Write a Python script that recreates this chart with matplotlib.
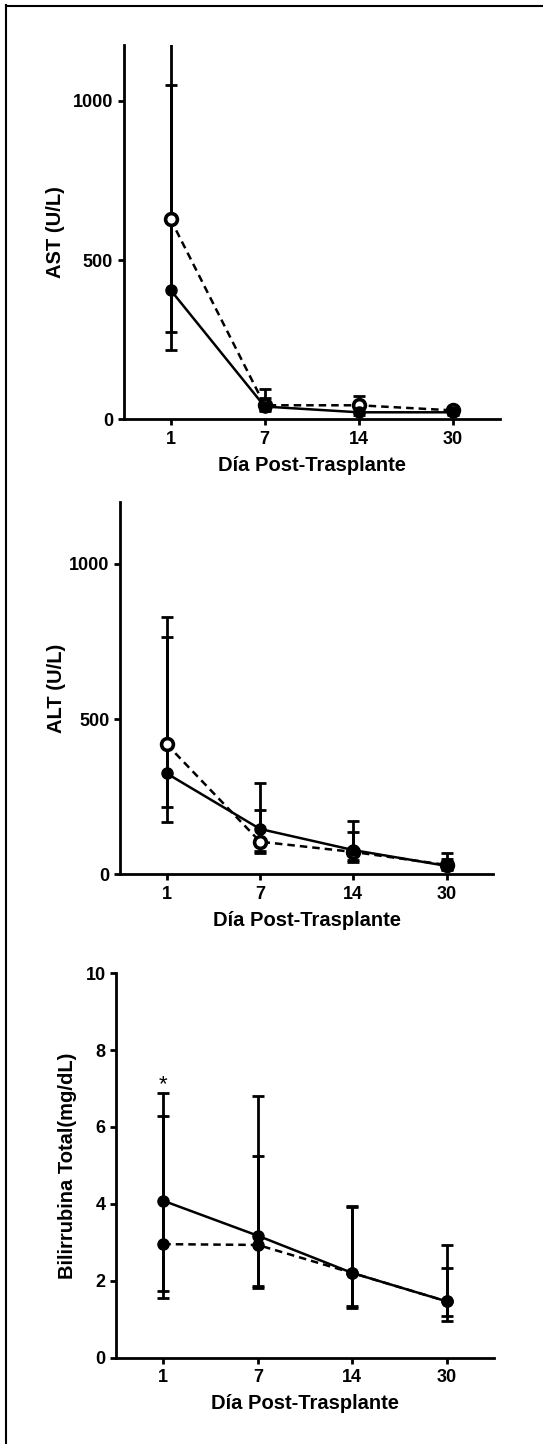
import matplotlib
matplotlib.use('Agg')
import matplotlib.pyplot as plt
import numpy as np
from matplotlib.lines import Line2D

days = ['1', '7', '14', '30']

# AST (U/L)
ast_solid = [406, 40, 22, 22]
ast_solid_low = [275, 25, 12, 14]
ast_solid_high = [1400, 66, 35, 30]
ast_dashed = [628, 44, 44, 28]
ast_dashed_low = [216, 30, 22, 18]
ast_dashed_high = [1050, 94, 72, 38]

# ALT (U/L)
alt_solid = [325, 146, 78, 27]
alt_solid_low = [217, 69, 41, 14]
alt_solid_high = [764, 207, 135, 48]
alt_dashed = [419, 105, 72, 30]
alt_dashed_low = [167, 75, 45, 18]
alt_dashed_high = [830, 293, 171, 67]

# Bilirrubina total (mg/dL)
bil_solid = [4.08, 3.17, 2.20, 1.46]
bil_solid_low = [1.54, 1.80, 1.30, 0.95]
bil_solid_high = [6.29, 6.81, 3.95, 2.34]
bil_dashed = [2.95, 2.93, 2.20, 1.46]
bil_dashed_low = [1.73, 1.85, 1.35, 1.07]
bil_dashed_high = [6.88, 5.25, 3.93, 2.93]

plt.rcParams['font.family'] = ['Liberation Sans', 'DejaVu Sans']
plt.rcParams['font.weight'] = 'bold'

W, H = 543, 1444
fig = plt.figure(figsize=(W / 100, H / 100), dpi=100)


def px_axes(left, right, top, bottom):
    return fig.add_axes([left / W, 1 - bottom / H, (right - left) / W, (bottom - top) / H])


def series(ax, means, lows, highs, dashed, filled):
    x = np.arange(len(days))
    m = np.array(means, dtype=float)
    err = [m - np.array(lows, dtype=float), np.array(highs, dtype=float) - m]
    ax.errorbar(x, m, yerr=err, fmt='none', ecolor='black', elinewidth=2.0,
                capsize=4.5, capthick=2.0, zorder=2)
    ls = (0, (3, 2)) if dashed else '-'
    if filled:
        ax.plot(x, m, color='black', lw=1.8, linestyle=ls, marker='o', ms=8,
                mfc='black', mec='black', zorder=3)
    else:
        ax.plot(x, m, color='black', lw=1.8, linestyle=ls, marker='o', ms=8.5,
                mfc='white', mec='black', mew=2.6, zorder=3)


def style(ax, ylim, yticks, ylabel, ylab_x, axh):
    ax.set_xlim(-0.5, 3.5)
    ax.set_ylim(*ylim)
    ax.set_xticks(np.arange(len(days)))
    ax.set_xticklabels(days)
    ax.set_yticks(yticks)
    for s in ['top', 'right']:
        ax.spines[s].set_visible(False)
    for s in ['left', 'bottom']:
        ax.spines[s].set_linewidth(2.0)
    ax.tick_params(axis='both', length=4.5, width=2.0, labelsize=13, pad=3)
    ax.tick_params(axis='x', pad=4)
    ax.set_ylabel(ylabel, fontsize=14.5, fontweight='bold', va='center', ha='center')
    ax.yaxis.set_label_coords(ylab_x, 0.5)
    ax.set_xlabel('Día Post-Trasplante', fontsize=14.5, fontweight='bold', va='center')
    ax.xaxis.set_label_coords(0.5, -46 / axh)


# Panel 1: AST
ax1 = px_axes(123.5, 500, 45, 419.3)
series(ax1, ast_dashed, ast_dashed_low, ast_dashed_high, dashed=True, filled=False)
series(ax1, ast_solid, ast_solid_low, ast_solid_high, dashed=False, filled=True)
style(ax1, (0, 1175), [0, 500, 1000], 'AST (U/L)', (55.4 - 123.5) / (500 - 123.5), 419.3 - 45)

# Panel 2: ALT
ax2 = px_axes(120, 493.4, 501.7, 874.3)
series(ax2, alt_dashed, alt_dashed_low, alt_dashed_high, dashed=True, filled=False)
series(ax2, alt_solid, alt_solid_low, alt_solid_high, dashed=False, filled=True)
style(ax2, (0, 1200), [0, 500, 1000], 'ALT (U/L)', (57 - 120) / (493.4 - 120), 874.3 - 501.7)

# Panel 3: Bilirrubina
ax3 = px_axes(116, 494.1, 973.3, 1357.5)
series(ax3, bil_dashed, bil_dashed_low, bil_dashed_high, dashed=True, filled=True)
series(ax3, bil_solid, bil_solid_low, bil_solid_high, dashed=False, filled=True)
style(ax3, (0, 10), [0, 2, 4, 6, 8, 10], 'Bilirrubina Total(mg/dL)',
      (67.5 - 116) / (494.1 - 116), 1357.5 - 973.3)
ax3.text(0, 6.95, '*', ha='center', va='baseline', fontsize=16, fontweight='normal')

# Frame lines (left and top)
fig.add_artist(Line2D([6 / W, 6 / W], [0, 1 - 5 / H], transform=fig.transFigure,
                      color='black', lw=1.5))
fig.add_artist(Line2D([6 / W, 1], [1 - 5.5 / H, 1 - 5.5 / H], transform=fig.transFigure,
                      color='black', lw=1.5))

fig.savefig('out.png', dpi=100)
